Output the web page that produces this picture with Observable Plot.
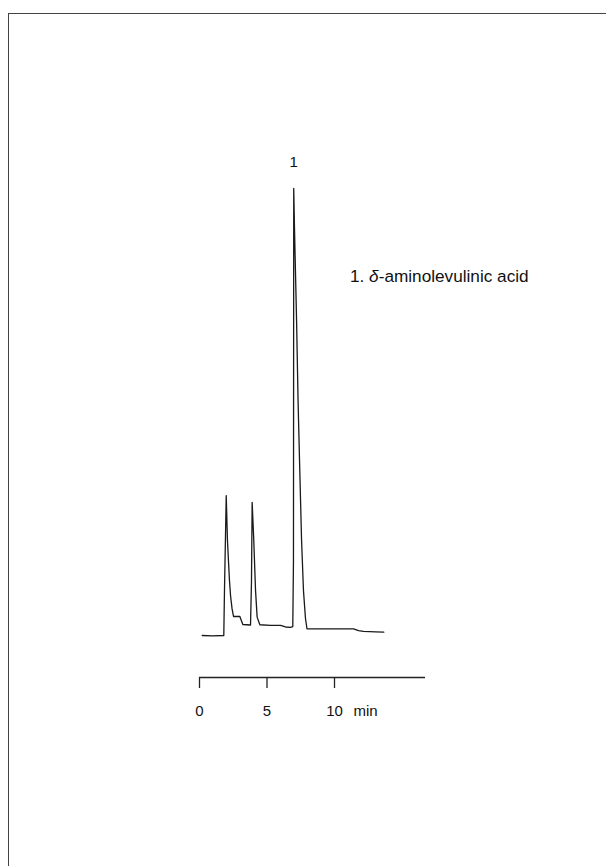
<!DOCTYPE html>
<html>
<head>
<meta charset="utf-8">
<script src="https://cdn.jsdelivr.net/npm/d3@7"></script>
<script src="https://cdn.jsdelivr.net/npm/@observablehq/plot@0.6"></script>
<style>
  html, body { margin: 0; padding: 0; background: #fff; }
  body { width: 606px; height: 866px; position: relative; overflow: hidden; font-family: "Liberation Sans", Arial, Helvetica, sans-serif; }
  #chart { position: absolute; left: 0; top: 0; }
  #border { position: absolute; left: 8px; top: 13px; right: -2px; bottom: -2px; border-top: 1.5px solid #444; border-left: 1.5px solid #444; pointer-events: none; }
  #legend { position: absolute; left: 350px; top: 266px; font-size: 17.2px; line-height: 20px; color: #111; white-space: nowrap; }
</style>
</head>
<body>
<div id="chart"></div>
<div id="border"></div>
<div id="legend">1. <i>δ</i>-aminolevulinic acid</div>
<script>
// Chromatogram trace: retention time (min) and detector signal (arbitrary units)
const times = [0.2, 0.96, 1.8, 1.85, 1.98, 2.07, 2.22, 2.30, 2.41, 2.52, 2.99, 3.21, 3.78, 3.85, 3.90, 4.02, 4.15, 4.27, 4.47, 5.26, 6.0, 6.37, 6.74, 6.91, 6.96, 6.98, 7.04, 7.19, 7.30, 7.41, 7.56, 7.70, 7.85, 7.96, 8.96, 11.41, 11.78, 12.15, 13.04, 13.65];
const signal = [0, -0.1, 0, 10, 31.3, 21.3, 12.3, 8.9, 6.0, 4.25, 4.25, 2.46, 2.35, 12, 29.8, 21.3, 10.1, 4.1, 2.4, 2.24, 2.24, 1.9, 1.8, 2.0, 16.8, 100, 90.6, 70.5, 52.6, 39.1, 21.3, 10.1, 3.8, 1.5, 1.5, 1.5, 1.1, 0.9, 0.8, 0.74];

// Peak labels
const peakNames = ["1"];
const peakTimes = [6.98];
const peakHeights = [100];

// Axis
const xTicks = [0, 5, 10];
const xDomain = [0, 16.74];
const yDomain = [-9.4, 108.5];
const unitLabel = "min";
const unitAt = 12.3;

const trace = times.map((t, i) => ({t, v: signal[i]}));
const peaks = peakNames.map((name, i) => ({name, t: peakTimes[i], v: peakHeights[i]}));

const chart = Plot.plot({
  width: 606,
  height: 866,
  marginLeft: 199,
  marginRight: 181,
  marginTop: 150,
  marginBottom: 189,
  style: {fontFamily: '"Liberation Sans", Arial, Helvetica, sans-serif', background: "transparent", color: "#111"},
  x: {domain: xDomain, axis: null},
  y: {domain: yDomain, axis: null},
  marks: [
    Plot.ruleY([yDomain[0]], {stroke: "#222", strokeWidth: 1.3}),
    Plot.axisX({ticks: xTicks, tickSize: 11, tickPadding: 17, fontSize: 15, stroke: "#222", strokeWidth: 1.3, label: null, tickFormat: d => String(d)}),
    Plot.text([unitLabel], {x: () => unitAt, y: () => yDomain[0], dy: 34, text: d => d, fontSize: 15, fill: "#111"}),
    Plot.line(trace, {x: "t", y: "v", stroke: "#1a1a1a", strokeWidth: 1.3, strokeLinejoin: "round"}),
    Plot.text(peaks, {x: "t", y: "v", text: "name", dy: -26, fontSize: 15, fill: "#111"})
  ]
});
document.getElementById("chart").appendChild(chart);
</script>
</body>
</html>
